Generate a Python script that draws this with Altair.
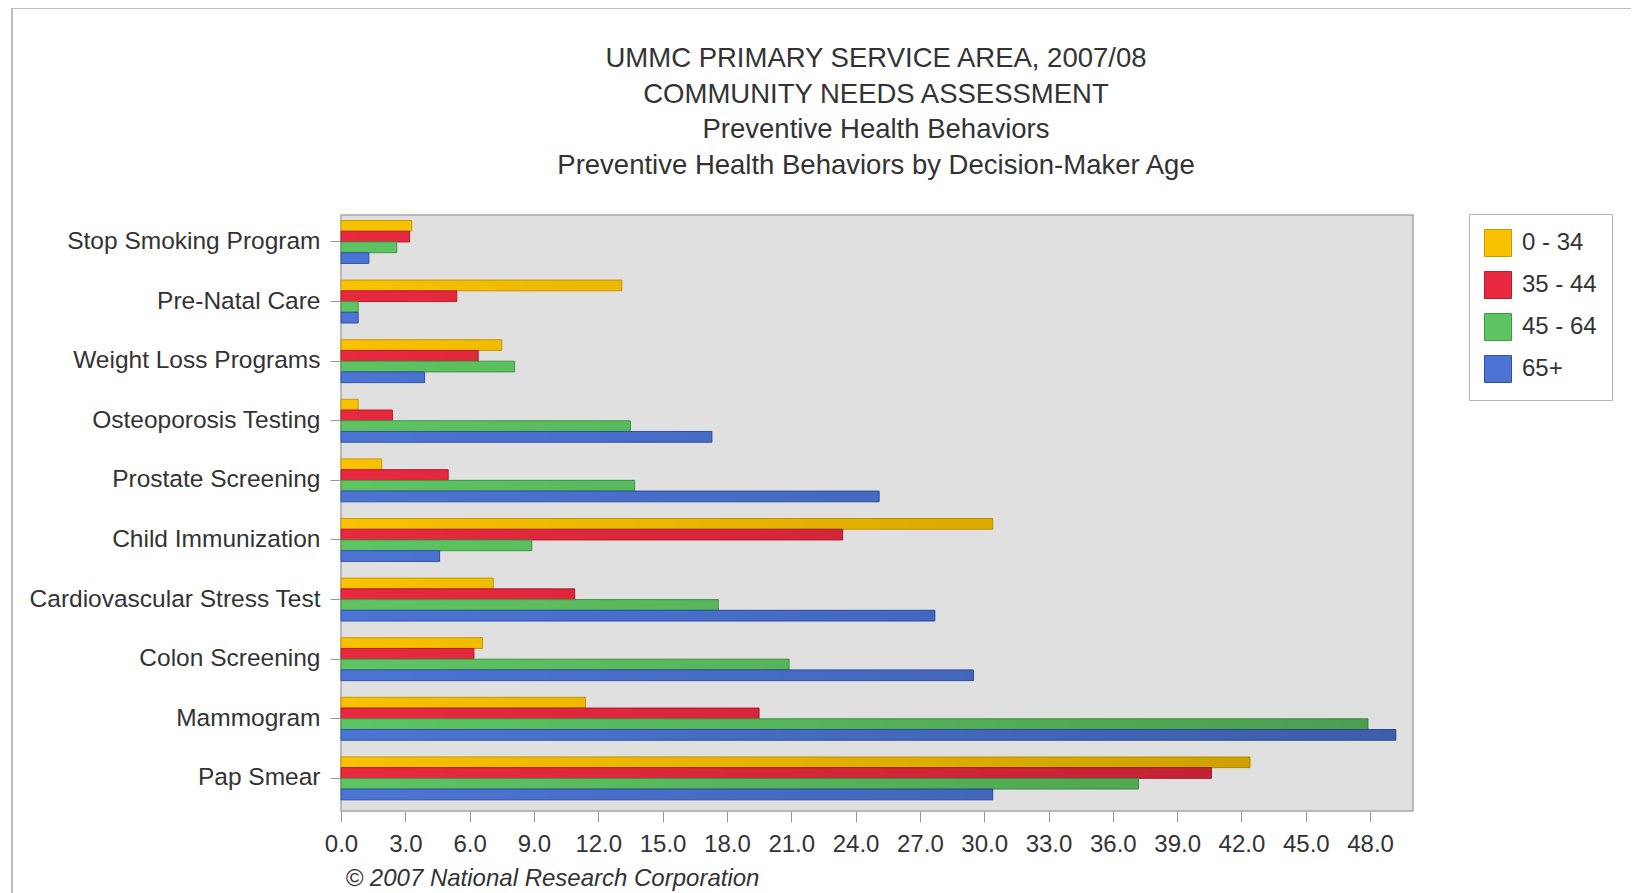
import altair as alt
import pandas as pd

categories = [
    "Stop Smoking Program",
    "Pre-Natal Care",
    "Weight Loss Programs",
    "Osteoporosis Testing",
    "Prostate Screening",
    "Child Immunization",
    "Cardiovascular Stress Test",
    "Colon Screening",
    "Mammogram",
    "Pap Smear",
]
age_groups = ["0 - 34", "35 - 44", "45 - 64", "65+"]
age_0_34 = [3.3, 13.1, 7.5, 0.8, 1.9, 30.4, 7.1, 6.6, 11.4, 42.4]
age_35_44 = [3.2, 5.4, 6.4, 2.4, 5.0, 23.4, 10.9, 6.2, 19.5, 40.6]
age_45_64 = [2.6, 0.8, 8.1, 13.5, 13.7, 8.9, 17.6, 20.9, 47.9, 37.2]
age_65_plus = [1.3, 0.8, 3.9, 17.3, 25.1, 4.6, 27.7, 29.5, 49.2, 30.4]
tick_values = [0, 3, 6, 9, 12, 15, 18, 21, 24, 27, 30, 33, 36, 39, 42, 45, 48]

fill_colors = ["#F8C200", "#E8293F", "#5EC462", "#4C74D4"]
stroke_colors = ["#C99A00", "#B81C30", "#3F9A46", "#2F52A8"]

title_lines = [
    "UMMC PRIMARY SERVICE AREA, 2007/08",
    "COMMUNITY NEEDS ASSESSMENT",
    "Preventive Health Behaviors",
    "Preventive Health Behaviors by Decision-Maker Age",
]
footer = "\u00a9 2007 National Research Corporation"

series = [age_0_34, age_35_44, age_45_64, age_65_plus]
rows = []
for g, vals in zip(age_groups, series):
    for c, v in zip(categories, vals):
        rows.append({"category": c, "age": g, "value": v})
df = pd.DataFrame(rows)

FONT = "Liberation Sans"
W, H = 1072, 596

y_enc = alt.Y(
    "category:N",
    sort=categories,
    scale=alt.Scale(paddingInner=0.28, paddingOuter=0.14, align=0.33),
    axis=alt.Axis(
        title=None, labelPadding=10, tickSize=11, labelLimit=500, labelFontSize=24.5
    ),
)
yoff_enc = alt.YOffset(
    "age:N", sort=age_groups, scale=alt.Scale(paddingInner=0, paddingOuter=0)
)
x_enc = alt.X(
    "value:Q",
    scale=alt.Scale(domain=[0, 50], nice=False, zero=True),
    axis=alt.Axis(
        values=tick_values,
        format=".1f",
        title=footer,
        titleAnchor="start",
        titleAlign="left",
        titleFontStyle="italic",
        titleFontWeight="normal",
        titleFontSize=24,
        titleFont=FONT,
        titleColor="#333333",
        titlePadding=10,
        titleX=4,
        labelPadding=10,
        labelFlush=False,
        labelOverlap=False,
        tickSize=11,
        grid=False,
    ),
)

legend_common = dict(
    title=None,
    orient="none",
    legendX=1128,
    legendY=-1,
    symbolType="square",
    symbolSize=729,
    symbolStrokeWidth=1,
    rowPadding=10,
    padding=15,
    labelOffset=10,
    labelFontSize=24,
    labelFont=FONT,
    labelColor="#333333",
    fillColor="white",
    strokeColor="#B4B4B4",
)

base = alt.Chart(df)

bars = base.mark_bar(strokeWidth=1).encode(
    y=y_enc,
    yOffset=yoff_enc,
    x=x_enc,
    color=alt.Color(
        "age:N",
        sort=age_groups,
        scale=alt.Scale(domain=age_groups, range=fill_colors),
        legend=alt.Legend(**legend_common),
    ),
    stroke=alt.Stroke(
        "age:N",
        sort=age_groups,
        scale=alt.Scale(domain=age_groups, range=stroke_colors),
        legend=alt.Legend(**legend_common),
    ),
)

shade_grad = alt.Gradient(
    gradient="linear",
    x1=0,
    x2=1,
    y1=0,
    y2=0,
    stops=[
        alt.GradientStop(color="rgba(0,0,0,0)", offset=0),
        alt.GradientStop(color="rgba(0,0,0,1)", offset=1),
    ],
)

shade = (
    base.transform_calculate(shade="datum.value / 50 * 0.2")
    .mark_bar(fill=shade_grad, strokeWidth=0)
    .encode(
        y=y_enc,
        yOffset=yoff_enc,
        x=x_enc,
        opacity=alt.Opacity("shade:Q", scale=None),
    )
)

single = alt.Chart(pd.DataFrame({"k": [0]}))
top_border = single.mark_rule(color="#A8A8A8", strokeWidth=1.5).encode(
    x=alt.value(-329), x2=alt.value(W + 230), y=alt.value(-207)
)
left_border = single.mark_rule(color="#A8A8A8", strokeWidth=1.5).encode(
    x=alt.value(-329), y=alt.value(-207), y2=alt.value(H + 100)
)

title_text = single.mark_text(
    font=FONT,
    fontSize=27.5,
    color="#333333",
    align="center",
    baseline="middle",
    lineHeight=35.5,
).encode(
    text=alt.value(title_lines),
    x=alt.value(W / 2 - 1),
    y=alt.value(-156),
)

chart = (
    alt.layer(bars, shade, top_border, left_border, title_text)
    .properties(
        width=W,
        height=H,
        autosize=alt.AutoSizeParams(type="none"),
        padding={"left": 333, "top": 207, "right": 218, "bottom": 82},
        background="white",
    )
    .configure_view(fill="#E0E0E0", stroke="#A6A6A6", strokeWidth=1.5)
    .configure_axis(
        domain=False,
        tickColor="#9A9A9A",
        labelFont=FONT,
        labelFontSize=24,
        labelColor="#333333",
    )
)

chart.save("out.html", embed_options={"renderer": "svg", "actions": False})
